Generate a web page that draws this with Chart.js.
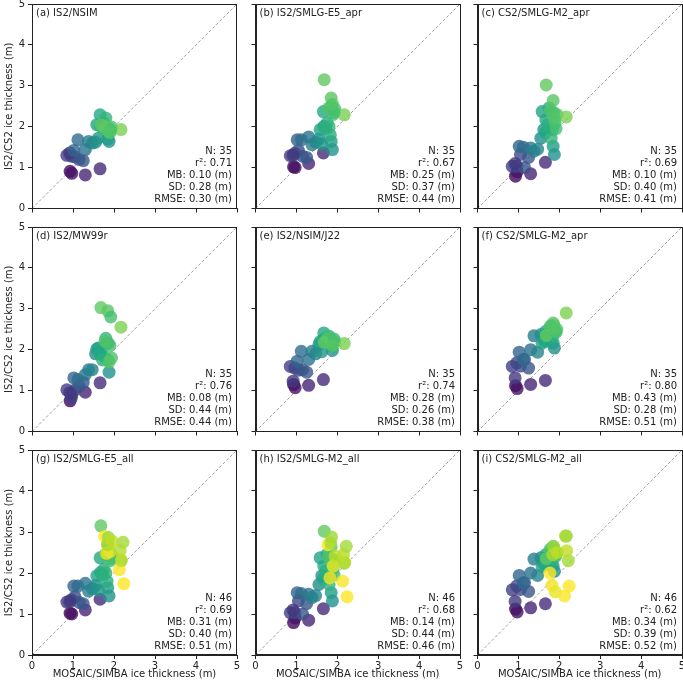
<!DOCTYPE html>
<html>
<head>
<meta charset="utf-8">
<script src="https://cdn.jsdelivr.net/npm/chart.js@4.4.1/dist/chart.umd.min.js"></script>
<style>
html, body { margin: 0; padding: 0; background: #fff; overflow: hidden; width: 683px; height: 680px; }
canvas { position: absolute; }
</style>
</head>
<body>
<script>
// MOSAIC/SIMBA thickness of the 35 april points, and their colour value (viridis position)
var X = [0.93, 0.97, 1.30, 1.66, 0.85, 0.96, 1.05, 1.15, 1.25, 0.92,
         1.02, 1.12, 1.30, 1.38, 1.47, 1.55, 1.62, 1.88, 1.85, 1.58,
         1.67, 1.75, 1.83, 1.66, 1.80, 1.72, 1.86, 1.94, 1.90, 1.85,
         1.78, 1.68, 2.17, 1.92, 1.88];
var C = [0.02, 0.05, 0.10, 0.12, 0.18, 0.20, 0.22, 0.25, 0.27, 0.16,
         0.32, 0.35, 0.38, 0.42, 0.45, 0.48, 0.52, 0.50, 0.55, 0.58,
         0.60, 0.62, 0.62, 0.60, 0.65, 0.63, 0.70, 0.72, 0.70, 0.74,
         0.72, 0.75, 0.80, 0.70, 0.73];

// IS2/CS2 thickness per panel
var Y_NSIM = [0.91, 0.86, 0.82, 0.97, 1.30, 1.28, 1.26, 1.20, 1.17, 1.36,
              1.42, 1.68, 1.44, 1.64, 1.60, 1.62, 1.72, 1.64, 1.70, 2.05,
              2.02, 2.09, 1.95, 2.29, 2.21, 1.98, 1.91, 1.99, 1.85, 2.00,
              1.95, 2.05, 1.93, 1.92, 1.88];
var Y_E5_APR = [1.02, 1.00, 1.10, 1.36, 1.29, 1.35, 1.42, 1.28, 1.25, 1.30,
                1.68, 1.68, 1.75, 1.56, 1.62, 1.70, 1.58, 1.44, 1.64, 1.93,
                2.01, 2.09, 1.80, 2.37, 2.00, 1.95, 2.50, 2.43, 2.30, 2.70,
                2.45, 3.15, 2.29, 2.35, 2.55];
var Y_M2_APR = [0.79, 0.90, 0.85, 1.13, 1.03, 1.03, 1.32, 1.00, 1.25, 1.10,
                1.52, 1.50, 1.48, 1.40, 1.45, 1.72, 1.93, 1.32, 1.52, 2.37,
                2.17, 2.46, 1.93, 1.85, 1.72, 2.05, 2.35, 2.30, 2.10, 2.64,
                2.40, 3.02, 2.24, 1.95, 2.20];
var Y_MW99R = [0.75, 0.90, 0.96, 1.19, 1.02, 0.82, 1.02, 1.10, 1.20, 0.95,
               1.31, 1.27, 1.39, 1.51, 1.51, 1.90, 2.04, 1.45, 1.75, 2.02,
               1.96, 1.84, 2.16, 1.90, 2.28, 1.75, 2.16, 1.80, 2.10, 2.95,
               2.20, 3.03, 2.55, 2.80, 1.70];
var Y_NSIM_J22 = [1.15, 1.07, 1.13, 1.27, 1.59, 1.55, 1.50, 1.51, 1.45, 1.23,
                  1.72, 1.96, 1.76, 1.96, 1.90, 2.12, 1.95, 1.98, 2.10, 2.20,
                  2.41, 2.30, 2.12, 2.25, 2.33, 2.28, 2.25, 2.20, 2.15, 2.22,
                  2.30, 2.18, 2.15, 2.26, 2.10];
var Y_CS2_M2_APR = [1.12, 1.05, 1.15, 1.25, 1.59, 1.68, 1.60, 1.76, 1.55, 1.31,
                    1.94, 1.76, 2.00, 2.34, 1.94, 2.37, 2.24, 2.04, 2.16, 2.16,
                    2.45, 2.40, 2.30, 2.20, 2.55, 2.35, 2.60, 2.50, 2.45, 2.65,
                    2.58, 2.35, 2.90, 2.42, 2.50];

// the 11 extra points of the "_all" panels
var X_ADD = [1.77, 1.82, 1.90, 2.13, 2.24, 2.22, 2.15, 2.18, 1.86, 1.84, 1.95];
var C_ADD = [1.00, 0.98, 0.97, 0.99, 1.00, 0.86, 0.88, 0.90, 0.85, 0.87, 0.90];
var Y_E5_ADD = [2.89, 2.48, 2.52, 2.08, 1.74, 2.75, 2.55, 2.32, 2.87, 2.69, 2.78];
var Y_M2_ADD = [2.69, 1.88, 2.17, 1.80, 1.42, 2.65, 2.45, 2.26, 2.88, 2.74, 2.41];
var Y_CS2_ADD = [2.00, 1.70, 1.54, 1.44, 1.68, 2.30, 2.90, 2.54, 2.64, 2.45, 2.50];

var TITLES = ['(a) IS2/NSIM', '(b) IS2/SMLG-E5_apr', '(c) CS2/SMLG-M2_apr',
              '(d) IS2/MW99r', '(e) IS2/NSIM/J22', '(f) CS2/SMLG-M2_apr',
              '(g) IS2/SMLG-E5_all', '(h) IS2/SMLG-M2_all', '(i) CS2/SMLG-M2_all'];
var N_VALS = ['35', '35', '35', '35', '35', '35', '46', '46', '46'];
var R2_VALS = ['0.71', '0.67', '0.69', '0.76', '0.74', '0.80', '0.69', '0.68', '0.62'];
var MB_VALS = ['0.10', '0.25', '0.10', '0.08', '0.28', '0.43', '0.31', '0.14', '0.34'];
var SD_VALS = ['0.28', '0.37', '0.40', '0.44', '0.26', '0.28', '0.40', '0.44', '0.39'];
var RMSE_VALS = ['0.30', '0.44', '0.41', '0.44', '0.38', '0.51', '0.51', '0.46', '0.52'];
var TICKS = [0, 1, 2, 3, 4, 5];

var PANEL_Y = [Y_NSIM, Y_E5_APR, Y_M2_APR, Y_MW99R, Y_NSIM_J22, Y_CS2_M2_APR,
               Y_E5_APR.concat(Y_E5_ADD), Y_M2_APR.concat(Y_M2_ADD), Y_CS2_M2_APR.concat(Y_CS2_ADD)];

var VIRIDIS = [[68,1,84],[72,36,117],[65,68,135],[53,95,141],[42,120,142],[33,145,140],
               [34,168,132],[68,191,112],[122,209,81],[189,223,38],[253,231,37]];

function viridis(t, a) {
	var p = Math.max(0, Math.min(1, t)) * 10;
	var i = Math.min(9, Math.floor(p));
	var f = p - i;
	var c = VIRIDIS[i].map(function(v, k) { return Math.round(v + (VIRIDIS[i + 1][k] - v) * f); });
	return 'rgba(' + c[0] + ',' + c[1] + ',' + c[2] + ',' + a + ')';
}

var FONT = 'DejaVu Sans';
var colLeft = [32, 255, 477];
var rowTop = [4, 227, 450];
var SIZE = 205;

function textPlugin(i) {
	return {
		id: 'panelText',
		afterDraw: function(chart) {
			var a = chart.chartArea, ctx = chart.ctx;
			ctx.save();
			ctx.strokeStyle = '#222';
			ctx.lineWidth = 1;
			ctx.strokeRect(Math.round(a.left) + 0.5, Math.round(a.top) + 0.5,
				Math.round(a.right - a.left) - 1, Math.round(a.bottom - a.top) - 1);
			ctx.fillStyle = '#222';
			ctx.font = '10px "' + FONT + '"';
			ctx.textBaseline = 'middle';
			ctx.textAlign = 'left';
			ctx.fillText(TITLES[i], a.left + 4, a.top + 9);
			ctx.textAlign = 'right';
			var lines = ['N: ' + N_VALS[i], 'r\u00b2: ' + R2_VALS[i], 'MB: ' + MB_VALS[i] + ' (m)',
			             'SD: ' + SD_VALS[i] + ' (m)', 'RMSE: ' + RMSE_VALS[i] + ' (m)'];
			for (var k = 0; k < lines.length; k++) {
				ctx.fillText(lines[k], a.right - 5, a.bottom - 9 - (lines.length - 1 - k) * 12);
			}
			ctx.restore();
		}
	};
}

function makePanel(i) {
	var col = i % 3, row = Math.floor(i / 3);
	var yw = col === 0 ? 32 : 6;
	var xh = row === 2 ? 25 : 6;
	var padT = 8, padR = 10;
	var w = yw + SIZE + padR, h = padT + SIZE + xh;

	var cv = document.createElement('canvas');
	cv.width = w; cv.height = h;
	cv.style.width = w + 'px'; cv.style.height = h + 'px';
	cv.style.left = (colLeft[col] - yw) + 'px';
	cv.style.top = (rowTop[row] - padT) + 'px';
	document.body.appendChild(cv);

	var ys = PANEL_Y[i];
	var xs = row === 2 ? X.concat(X_ADD) : X;
	var cs = row === 2 ? C.concat(C_ADD) : C;
	var pts = xs.map(function(x, k) { return { x: x, y: ys[k] }; });
	var colours = cs.map(function(c) { return viridis(c, 0.8); });

	var tickFont = { family: FONT, size: 10 };

	new Chart(cv, {
		type: 'scatter',
		data: {
			datasets: [{
				data: pts,
				backgroundColor: colours,
				borderWidth: 0,
				pointRadius: 6.5,
				pointHoverRadius: 6.5,
				order: 0
			}, {
				data: [{ x: 0, y: 0 }, { x: 5, y: 5 }],
				showLine: true,
				borderColor: '#888',
				borderWidth: 0.8,
				borderDash: [3, 2],
				pointRadius: 0,
				order: 1
			}]
		},
		options: {
			responsive: false,
			animation: false,
			devicePixelRatio: 1,
			layout: { padding: { top: padT, right: padR, left: 0, bottom: 0 } },
			plugins: { legend: { display: false }, tooltip: { enabled: false } },
			scales: {
				x: {
					type: 'linear', min: 0, max: 5,
					afterBuildTicks: function(s) { s.ticks = TICKS.map(function(v) { return { value: v }; }); },
					ticks: { display: row === 2, color: '#222', font: tickFont, padding: 1, maxRotation: 0 },
					grid: { drawOnChartArea: false, tickLength: 4, color: '#222' },
					border: { color: '#222', width: 1 },
					title: { display: row === 2, text: 'MOSAIC/SIMBA ice thickness (m)', color: '#222',
						font: tickFont, padding: { top: 0, bottom: 0 } },
					afterFit: function(s) { s.height = xh; s.paddingLeft = 0; s.paddingRight = 0; }
				},
				y: {
					type: 'linear', min: 0, max: 5,
					afterBuildTicks: function(s) { s.ticks = TICKS.map(function(v) { return { value: v }; }); },
					ticks: { display: col === 0, color: '#222', font: tickFont, padding: 3 },
					grid: { drawOnChartArea: false, tickLength: 4, color: '#222' },
					border: { color: '#222', width: 1 },
					title: { display: col === 0, text: 'IS2/CS2 ice thickness (m)', color: '#222',
						font: tickFont, padding: { top: 3, bottom: 0 } },
					afterFit: function(s) { s.width = yw; s.paddingTop = 0; s.paddingBottom = 0; }
				}
			}
		},
		plugins: [textPlugin(i)]
	});
}

for (var i = 0; i < 9; i++) makePanel(i);
</script>
</body>
</html>
